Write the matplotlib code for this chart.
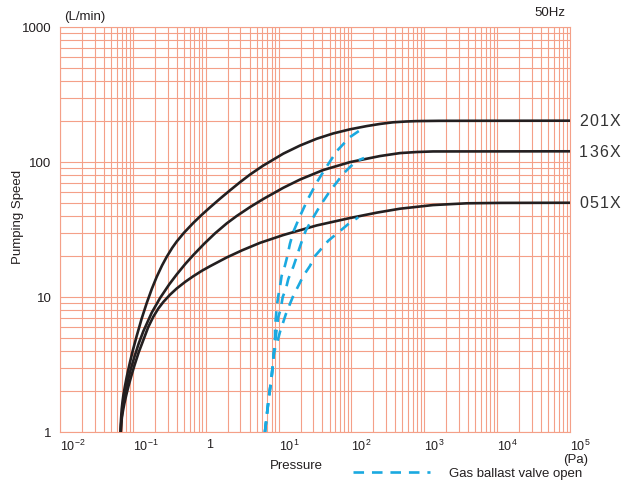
import numpy as np
import matplotlib
matplotlib.use('Agg')
import matplotlib.pyplot as plt
from matplotlib.ticker import LogLocator, NullFormatter

plt.rcParams['font.family'] = ['Liberation Sans', 'DejaVu Sans']
plt.rcParams['mathtext.default'] = 'regular'

GRID = '#f4a088'
INK = '#231f20'
BLUE = '#1aa9e0'

# pumping speed curves, pressure in Pa, speed in L/min
p_201x = [0.0676, 0.0687, 0.0703, 0.0721, 0.0740, 0.0776, 0.0822, 0.0871, 0.0914,
          0.1, 0.1130, 0.1318, 0.1549, 0.1820, 0.2123, 0.2512, 0.2911, 0.3467,
          0.3999, 0.5012, 0.6761, 0.8913, 1.146, 1.585, 2.153, 2.951, 4.055, 6.095,
          11.61, 19.68, 33.27, 55.85, 95.5, 162.2, 247.2, 372.4, 562.3, 787, 1585, 1e5]
s_201x = [1, 1.230, 1.479, 1.679, 1.862, 2.163, 2.541, 2.938, 3.296,
          4.027, 5.152, 6.887, 9.016, 11.48, 14.09, 17.10, 19.82, 23.12,
          25.76, 29.85, 35.40, 40.83, 46.13, 53.70, 61.66, 70.79, 80.72, 93.76,
          115.3, 132.4, 148.6, 162.6, 174.6, 184.5, 191.4, 196.8, 199.5, 200.9, 201.8, 202.3]

p_136x = [0.0681, 0.0692, 0.0708, 0.0733, 0.0767, 0.0813, 0.0871, 0.0933, 0.1047,
          0.1202, 0.1390, 0.1820, 0.2360, 0.3162, 0.3999, 0.5248, 0.6761, 0.9550,
          1.340, 1.941, 2.661, 4.055, 6.310, 11.61, 19.68, 40.74, 95.5, 247.2,
          463.4, 794.3, 1315, 1e5]
s_136x = [1, 1.175, 1.349, 1.567, 1.820, 2.138, 2.512, 2.897, 3.589,
          4.519, 5.559, 7.674, 9.817, 12.42, 14.69, 17.58, 20.46, 24.83,
          29.58, 35.08, 39.81, 46.34, 53.58, 64.42, 74.13, 87.10, 99.77, 110.7,
          116.4, 118.6, 119.7, 120.0]

p_051x = [0.0681, 0.0692, 0.0708, 0.0733, 0.0767, 0.0813, 0.0871, 0.0944, 0.1047,
          0.1202, 0.1390, 0.1622, 0.1905, 0.2239, 0.2618, 0.3236, 0.3999, 0.5248,
          0.6761, 0.8913, 1.146, 1.941, 3.162, 5.559, 11.61, 33.27, 95.5, 223.9,
          463.4, 1315, 3819, 10940, 1e5]
s_051x = [1, 1.148, 1.288, 1.445, 1.641, 1.884, 2.188, 2.559, 3.090,
          3.890, 4.786, 5.970, 7.129, 8.222, 9.183, 10.40, 11.56, 12.97,
          14.26, 15.67, 16.90, 19.63, 22.18, 25.18, 28.77, 33.88, 38.46, 42.17,
          45.08, 47.97, 49.43, 49.77, 49.89]

# gas ballast valve open
p_gb_201x = [6.5, 7.23, 8.05, 8.65, 8.95, 8.95, 9.22, 9.42, 9.91, 10.45, 11.0, 12.2,
             13.2, 14.3, 15.9, 19.7, 25.3, 33.7, 43.4, 63.4, 95.5, 153]
s_gb_201x = [1, 1.67, 2.6, 3.91, 5.1, 6.1, 7.2, 8.4, 10.2, 11.9, 14.3, 17.0,
             20.1, 24.7, 30.3, 39.8, 53.2, 71.1, 88.7, 121, 153, 182]

p_gb_136x = [6.5, 7.23, 8.05, 8.65, 9.42, 9.91, 10.7, 11.4, 12.6, 13.6, 15.9, 17.3,
             19.2, 21.8, 23.8, 29.6, 37.0, 50.8, 63.4, 79.1, 95.5, 119, 149]
s_gb_136x = [1, 1.67, 2.6, 3.91, 5.79, 7.11, 8.15, 10, 11.5, 13.6, 16.7, 19.1,
             22.7, 27.8, 31.3, 38.5, 47.2, 61.0, 71.1, 82.9, 91.8, 102, 107]

p_gb_051x = [6.5, 7.23, 8.05, 8.65, 9.6, 10.45, 11.6, 12.6, 14.3, 15.9, 18.7, 21.8,
             27.0, 31.6, 48.1, 66.1, 90.6, 124]
s_gb_051x = [1, 1.67, 2.6, 3.91, 4.64, 5.51, 6.53, 7.48, 8.87, 10.2, 12.1, 14.3,
             17.0, 20.1, 26.1, 30.1, 34.7, 38.9]

curve_names = ['201X', '136X', '051X']

x_ticks = [1e-2, 1e-1, 1, 1e1, 1e2, 1e3, 1e4, 1e5]
x_tick_labels = ['$10^{-2}$', '$10^{-1}$', '1', '$10^{1}$', '$10^{2}$',
                 '$10^{3}$', '$10^{4}$', '$10^{5}$']
y_ticks = [1, 10, 100, 1000]
y_tick_labels = ['1', '10', '100', '1000']


def spaced_label(ax, text, x, y, step=7.3):
    # draw one glyph at a time to get the wide letter spacing of the original
    for i, ch in enumerate(text):
        ax.annotate(ch, xy=(x, y), xytext=(6.5 + i * step, 0),
                    textcoords='offset points', ha='left', va='center',
                    fontsize=11.5, color='#333333', annotation_clip=False)


fig = plt.figure(figsize=(6.27, 4.81), dpi=100)
ax = fig.add_axes([0.0957, 0.0998, 0.8134, 0.842])
ax.set_xscale('log')
ax.set_yscale('log')
ax.set_xlim(1e-2, 1e5)
ax.set_ylim(1, 1000)

for p, s, name in zip([p_201x, p_136x, p_051x], [s_201x, s_136x, s_051x], curve_names):
    ax.plot(p, s, color=INK, lw=1.9, solid_capstyle='butt', solid_joinstyle='round',
            zorder=3)
    spaced_label(ax, name, p[-1], s[-1])

gb_line = None
for p, s in zip([p_gb_201x, p_gb_136x, p_gb_051x], [s_gb_201x, s_gb_136x, s_gb_051x]):
    line, = ax.plot(p, s, color=BLUE, lw=1.9, dashes=(4, 3), zorder=4,
                    label='Gas ballast valve open')
    if gb_line is None:
        gb_line = line

ax.xaxis.set_major_locator(LogLocator(base=10, numticks=100))
ax.xaxis.set_minor_locator(LogLocator(base=10, subs=np.arange(2, 10), numticks=100))
ax.yaxis.set_minor_locator(LogLocator(base=10, subs=np.arange(2, 10), numticks=100))
ax.xaxis.set_minor_formatter(NullFormatter())
ax.yaxis.set_minor_formatter(NullFormatter())
ax.set_xticks(x_ticks)
ax.set_xticklabels(x_tick_labels, ha='left', fontsize=9, color=INK)
ax.set_yticks(y_ticks)
ax.set_yticklabels(y_tick_labels, fontsize=9.5, color=INK)
ax.tick_params(axis='both', which='both', length=0)
ax.tick_params(axis='x', pad=4)
ax.tick_params(axis='y', pad=6)

ax.set_axisbelow(True)
ax.grid(True, which='both', color=GRID, lw=0.8)
for sp in ax.spines.values():
    sp.set_color(GRID)
    sp.set_linewidth(0.8)

fig.text(64 / 627, 1 - 17 / 481, '(L/min)', ha='left', va='center', fontsize=9.5, color=INK)
fig.text(565 / 627, 1 - 13 / 481, '50Hz', ha='right', va='center', fontsize=9.5, color=INK)
fig.text(18 / 627, 1 - 217 / 481, 'Pumping Speed', rotation=90, ha='center',
         va='center', fontsize=9.5, color=INK)
fig.text(296 / 627, 1 - 466 / 481, 'Pressure', ha='center', va='center', fontsize=9.5, color=INK)
fig.text(588 / 627, 1 - 460 / 481, '(Pa)', ha='right', va='center', fontsize=9.5, color=INK)

fig.legend(handles=[gb_line], loc='center left', bbox_to_anchor=(353 / 627, 1 - 474 / 481),
           frameon=False, fontsize=9.5, handlelength=5.8, handletextpad=1.45,
           borderpad=0, borderaxespad=0, labelcolor=INK)

fig.savefig('out.png', dpi=100)
